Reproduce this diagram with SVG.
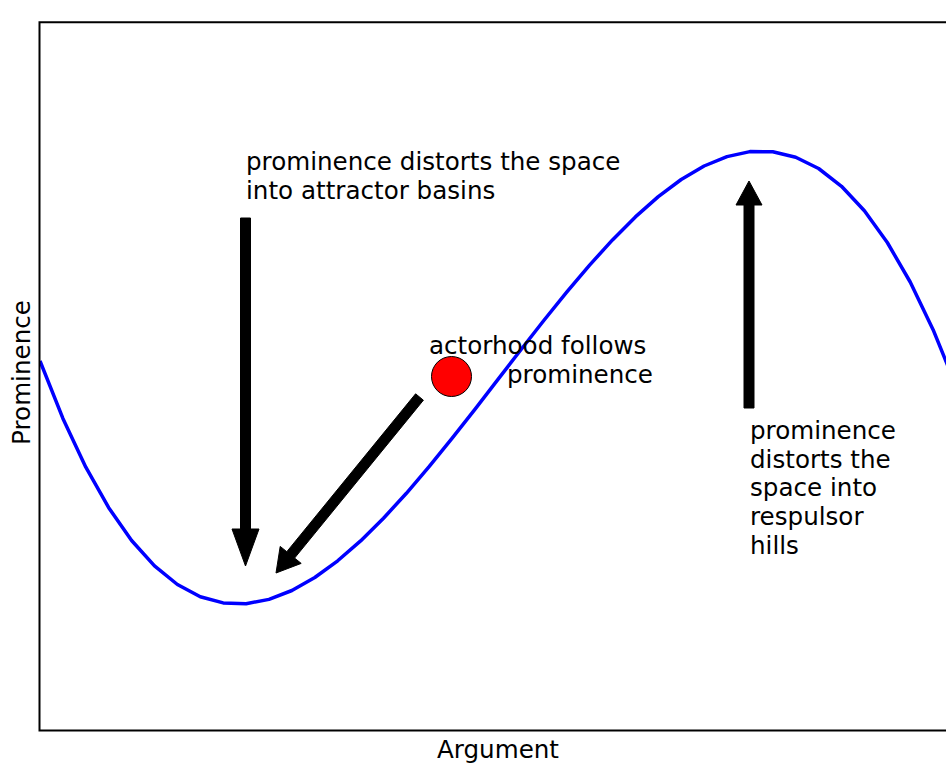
<svg xmlns="http://www.w3.org/2000/svg" width="946" height="763" viewBox="0 0 946 763">
<style>
text{font-family:"DejaVu Sans","Liberation Sans",sans-serif;font-size:24.6px;fill:#000}
.curve{fill:none;stroke:#0000ff;stroke-width:3.5;stroke-linejoin:round;stroke-linecap:butt}
.arrow{fill:#000;stroke:#000;stroke-width:1}
.spine{fill:none;stroke:#000;stroke-width:2}
</style>
<defs>
<clipPath id="axclip"><rect x="39.5" y="22.3" width="920" height="708.2"/></clipPath>
</defs>
<rect width="946" height="763" fill="#fff"/>
<g id="landscape" clip-path="url(#axclip)">
<polyline class="curve" points="40,361 62.9,418.4 85.8,467.2 108.7,507.7 131.6,540.5 154.5,565.9 177.4,584.5 200.3,596.7 223.2,602.9 246.1,603.7 269,599.4 291.9,590.5 314.8,577.5 337.7,560.8 360.6,540.9 383.5,518.2 406.4,493.3 429.3,466.4 452.2,438.2 475.1,409.1 498,379.4 520.9,349.8 543.8,320.5 566.7,292.2 589.6,265.1 612.5,239.9 635.4,216.9 658.3,196.6 681.2,179.5 704.1,166 727,156.6 749.9,151.6 772.8,151.7 795.7,157.2 818.6,168.5 841.5,186.3 864.4,210.8 887.3,242.5 910.2,282 933.1,329.7 956,386"/>
</g>
<g id="connectors">
<polygon id="arrow-attractor" class="arrow" points="240.5,218 250.5,218 250.5,529 259,529 245.5,566 232,529 240.5,529"/>
<polygon id="arrow-follows" class="arrow" points="415.6,393.8 423.4,400.2 294.6,558.1 301.2,563.4 276,573 280.2,546.4 286.8,551.7"/>
<polygon id="arrow-repulsor" class="arrow" points="744,408 754,408 754,205 762,205 749,181 736,205 744,205"/>
</g>
<g id="actor">
<circle cx="451.5" cy="376.5" r="20" fill="#ff0000" stroke="#000" stroke-width="1"/>
</g>
<g id="label-attractor">
<text x="246" y="170">prominence distorts the space</text>
<text x="246" y="199">into attractor basins</text>
</g>
<g id="label-follows">
<text x="429" y="354">actorhood follows</text>
<text x="507" y="383.3">prominence</text>
</g>
<g id="label-repulsor">
<text x="750" y="439">prominence</text>
<text x="750" y="467.7">distorts the</text>
<text x="750" y="496.4">space into</text>
<text x="750" y="525.1">respulsor</text>
<text x="750" y="553.8">hills</text>
</g>
<g id="axes">
<path class="spine" d="M960,22.3 H39.5 V730.5 H960"/>
<text x="498" y="758" text-anchor="middle">Argument</text>
<text transform="translate(29.5,372.5) rotate(-90)" text-anchor="middle">Prominence</text>
</g>
</svg>
